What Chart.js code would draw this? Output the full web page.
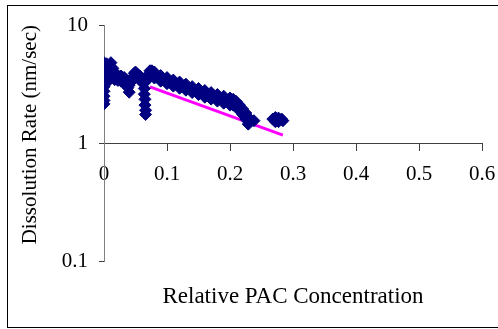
<!DOCTYPE html>
<html lang="en">
<head>
<meta charset="utf-8" />
<script src="https://cdn.jsdelivr.net/npm/chart.js@4.4.1/dist/chart.umd.min.js"></script>
<style>
  body { margin: 0; background: #fff; }
</style>
<title>Dissolution Rate</title>
</head>
<body>
<canvas id="grafico" width="498" height="329"></canvas>
<script>
// relative PAC concentration of each measured point
const rateX = [
  0, 0, 0, 0, 0, 0, 0, 0, 0, 0, 0,
  0.004, 0.004, 0.004, 0.004,
  0.008, 0.008, 0.008,
  0.011, 0.011, 0.011, 0.011,
  0.014, 0.014,
  0.017, 0.017, 0.022, 0.022, 0.027, 0.027, 0.032, 0.032,
  0.036, 0.038, 0.040, 0.040,
  0.043, 0.045, 0.048, 0.050, 0.050,
  0.054, 0.057, 0.057,
  0.061, 0.063, 0.064, 0.064, 0.065, 0.065, 0.066, 0.066,
  0.068, 0.070, 0.073, 0.076, 0.076,
  0.08, 0.08, 0.09, 0.09, 0.10, 0.10, 0.11, 0.11, 0.12, 0.12,
  0.13, 0.13, 0.14, 0.14, 0.15, 0.15, 0.16, 0.16, 0.17, 0.17,
  0.18, 0.18, 0.19, 0.19, 0.20, 0.20,
  0.205, 0.205, 0.21, 0.21, 0.215, 0.215, 0.22, 0.22,
  0.225, 0.225, 0.229, 0.229, 0.234, 0.238,
  0.268, 0.272, 0.272, 0.277, 0.277, 0.282, 0.284
];
// dissolution rate (nm/sec)
const rateY = [
  4.8, 4.5, 4.2, 3.9, 3.6, 3.3, 3.0, 2.75, 2.5, 2.3, 2.15,
  4.7, 4.2, 3.7, 3.3,
  4.5, 3.9, 3.4,
  4.8, 4.4, 4.0, 3.6,
  4.3, 3.9,
  3.8, 3.45, 3.75, 3.4, 3.7, 3.35, 3.6, 3.2,
  3.3, 2.95, 2.7, 3.1,
  3.3, 3.6, 3.9, 4.0, 3.6,
  3.8, 3.7, 3.4,
  3.5, 3.2, 2.9, 2.6, 2.35, 2.1, 1.9, 1.75,
  3.4, 3.8, 4.1, 4.1, 3.7,
  4.0, 3.56, 3.73, 3.35, 3.59, 3.19, 3.42, 3.04, 3.29, 2.92,
  3.16, 2.81, 3.01, 2.68, 2.9, 2.58, 2.79, 2.45, 2.68, 2.36,
  2.58, 2.27, 2.5, 2.18, 2.41, 2.1,
  2.35, 2.1, 2.25, 2.0, 2.1, 1.9, 1.95, 1.75,
  1.8, 1.6, 1.65, 1.45, 1.55, 1.55,
  1.6, 1.65, 1.52, 1.63, 1.52, 1.6, 1.55
];
// magenta trend line end points
const fitX = [0.073, 0.284];
const fitY = [3.0, 1.17];

const xTicks = [0, 0.1, 0.2, 0.3, 0.4, 0.5, 0.6];
const yTicks = [0.1, 1, 10];

const serif = "'Liberation Serif', 'Times New Roman', serif";

const marco = {
  id: 'marco',
  beforeDraw(chart) {
    const ctx = chart.ctx;
    ctx.save();
    ctx.fillStyle = '#fff';
    ctx.fillRect(0, 0, chart.width, chart.height);
    ctx.strokeStyle = '#000';
    ctx.lineWidth = 1;
    ctx.strokeRect(7.5, 5.5, 600, 322);
    ctx.restore();
  }
};

new Chart(document.getElementById('grafico').getContext('2d'), {
  type: 'scatter',
  data: {
    datasets: [
      {
        label: 'Rate',
        data: rateX.map((x, i) => ({ x: x, y: rateY[i] })),
        pointStyle: 'rectRot',
        pointRadius: 6,
        backgroundColor: '#000080',
        borderColor: '#000080',
        borderWidth: 1
      },
      {
        label: 'Fit',
        type: 'line',
        data: fitX.map((x, i) => ({ x: x, y: fitY[i] })),
        borderColor: '#ff00ff',
        borderWidth: 3,
        pointRadius: 0,
        fill: false
      }
    ]
  },
  options: {
    responsive: false,
    animation: false,
    devicePixelRatio: 1,
    layout: { padding: { left: 7, top: 25, right: 16, bottom: 18 } },
    plugins: {
      legend: { display: false },
      tooltip: { enabled: false },
      title: {
        display: true,
        position: 'bottom',
        fullSize: false,
        text: 'Relative PAC Concentration',
        color: '#000',
        font: { family: serif, size: 23, weight: 'normal' },
        padding: { top: 22, bottom: 0 }
      }
    },
    scales: {
      x: {
        type: 'linear',
        position: { y: 1 },
        min: 0,
        max: 0.6,
        afterBuildTicks: (s) => { s.ticks = xTicks.map((v) => ({ value: v })); },
        // the tick padding should not push the plot away from the right edge
        afterFit: (s) => { s.paddingLeft = 0; s.paddingRight = 0; },
        ticks: {
          callback: (v) => String(v),
          color: '#000',
          font: { family: serif, size: 21 },
          padding: 12,
          maxRotation: 0
        },
        grid: { drawOnChartArea: false, tickLength: 7, color: '#404040' },
        border: { color: '#404040' }
      },
      y: {
        type: 'logarithmic',
        position: 'left',
        min: 0.1,
        max: 10,
        afterBuildTicks: (s) => { s.ticks = yTicks.map((v) => ({ value: v })); },
        afterFit: (s) => { s.width = 97; },
        title: {
          display: true,
          text: 'Dissolution Rate (nm/sec)',
          align: 'end',
          color: '#000',
          font: { family: serif, size: 21 },
          padding: { top: 11, bottom: 0 }
        },
        ticks: {
          callback: (v) => String(v),
          color: '#000',
          font: { family: serif, size: 21 },
          padding: 11
        },
        grid: { drawOnChartArea: false, tickLength: 5, color: '#404040' },
        border: { color: '#808080' }
      }
    }
  },
  plugins: [marco]
});
</script>
</body>
</html>
